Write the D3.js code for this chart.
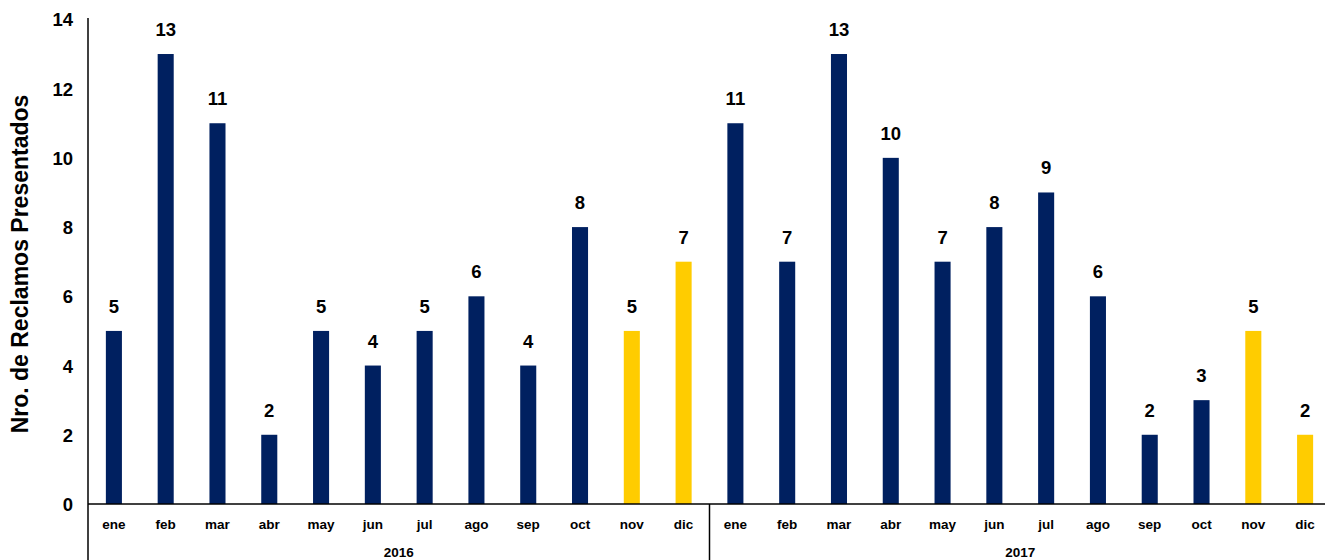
<!DOCTYPE html>
<html><head><meta charset="utf-8">
<script src="https://cdn.jsdelivr.net/npm/d3@7"></script>
<style>body{margin:0;background:#fff}svg{display:block}text{font-family:"Liberation Sans",Arial,sans-serif;font-weight:bold;fill:#000}</style>
</head><body>
<svg id="c" width="1325" height="560"></svg>
<script>
const years = ["2016", "2017"];
const months = ["ene","feb","mar","abr","may","jun","jul","ago","sep","oct","nov","dic"];
const values2016 = [5,13,11,2,5,4,5,6,4,8,5,7];
const values2017 = [11,7,13,10,7,8,9,6,2,3,5,2];
const highlighted = ["nov","dic"];
const yTicks = [0,2,4,6,8,10,12,14];
const yTitle = "Nro. de Reclamos Presentados";

const data = [];
[values2016, values2017].forEach((vals, yi) => vals.forEach((v, mi) => data.push({year: years[yi], month: months[mi], key: years[yi]+"-"+months[mi], value: v})));

const svg = d3.select("#c");
const mLeft = 88, mRight = 1331, mTop = 19.4, mBottom = 504;
const x = d3.scaleBand().domain(data.map(d => d.key)).range([mLeft, mRight]).paddingInner(0.69).paddingOuter(0.345);
const y = d3.scaleLinear().domain([0,14]).range([mBottom, mTop]);

svg.selectAll("rect.bar").data(data).enter().append("rect")
  .attr("class","bar")
  .attr("x", d => x(d.key)).attr("width", x.bandwidth())
  .attr("y", d => y(d.value)).attr("height", d => y(0) - y(d.value))
  .attr("fill", d => highlighted.includes(d.month) ? "#FFCC00" : "#002060");

svg.selectAll("text.val").data(data).enter().append("text")
  .attr("class","val")
  .attr("x", d => x(d.key) + x.bandwidth()/2)
  .attr("y", d => y(d.value) - 18)
  .attr("text-anchor","middle").attr("font-size", 18.5)
  .text(d => d.value);

// y axis
const yAxis = d3.axisLeft(y).tickValues(yTicks).tickSize(0).tickPadding(15);
const ga = svg.append("g").attr("transform", `translate(${mLeft},0)`).call(yAxis);
ga.select(".domain").remove();
ga.selectAll("text").attr("font-size", 18.5).attr("dy","0.35em").style("font-family","'Liberation Sans',Arial,sans-serif").style("font-weight","bold");
svg.append("line").attr("x1", mLeft).attr("x2", mLeft).attr("y1", 18).attr("y2", 560).attr("stroke","#000").attr("stroke-width",1.5);
svg.append("line").attr("x1", mLeft).attr("x2", 1325).attr("y1", mBottom).attr("y2", mBottom).attr("stroke","#000").attr("stroke-width",1.5);

// month labels
svg.selectAll("text.mon").data(data).enter().append("text")
  .attr("class","mon")
  .attr("x", d => x(d.key) + x.bandwidth()/2)
  .attr("y", 529).attr("text-anchor","middle").attr("font-size", 13.5)
  .text(d => d.month);

// year separators & labels
const step = x.step();
years.forEach((yr, i) => {
  const x0 = mLeft + i*12*step, x1 = mLeft + (i+1)*12*step;
  if (i > 0) svg.append("line").attr("x1", x0).attr("x2", x0).attr("y1", mBottom).attr("y2", 560).attr("stroke","#000").attr("stroke-width",1.5);
  svg.append("text").attr("x", (x0+x1)/2).attr("y", 557).attr("text-anchor","middle").attr("font-size", 13.5).text(yr);
});

svg.append("text").attr("transform","translate(28,264) rotate(-90)").attr("text-anchor","middle").attr("font-size", 23).text(yTitle);
</script>
</body></html>
